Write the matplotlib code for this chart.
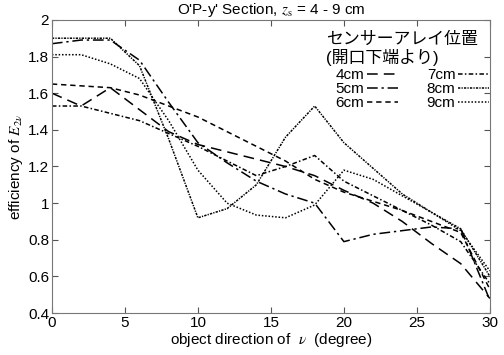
import numpy as np
import matplotlib
matplotlib.use('Agg')
import matplotlib.pyplot as plt
from matplotlib.ticker import FormatStrFormatter

plt.rcParams['font.family'] = ['Liberation Sans', 'Noto Sans CJK JP']
plt.rcParams['mathtext.fontset'] = 'stix'

# object direction (degree)
angle = [0, 2, 4, 6, 8, 10, 12, 14, 16, 18, 20, 22, 24, 26, 28, 30]

# efficiency for each sensor array position
eff_4cm = [1.60, 1.53, 1.63, 1.51, 1.39, 1.32, 1.28, 1.24, 1.20, 1.15, 1.07, 1.00, 0.90, 0.78, 0.67, 0.48]
eff_5cm = [1.87, 1.89, 1.89, 1.78, 1.55, 1.33, 1.22, 1.12, 1.05, 1.00, 0.79, 0.83, 0.85, 0.87, 0.86, 0.47]
eff_6cm = [1.65, 1.64, 1.63, 1.59, 1.53, 1.47, 1.39, 1.31, 1.23, 1.13, 1.06, 1.01, 0.96, 0.90, 0.84, 0.53]
eff_7cm = [1.53, 1.53, 1.49, 1.45, 1.38, 1.31, 1.23, 1.15, 1.20, 1.26, 1.12, 1.04, 0.96, 0.88, 0.79, 0.56]
eff_8cm = [1.90, 1.90, 1.90, 1.75, 1.35, 0.92, 0.97, 1.10, 1.36, 1.53, 1.33, 1.19, 1.05, 0.95, 0.86, 0.60]
eff_9cm = [1.81, 1.81, 1.76, 1.68, 1.45, 1.18, 1.00, 0.935, 0.92, 0.99, 1.18, 1.13, 1.04, 0.95, 0.85, 0.63]

labels = ['4cm', '5cm', '6cm', '7cm', '8cm', '9cm']
series = [eff_4cm, eff_5cm, eff_6cm, eff_7cm, eff_8cm, eff_9cm]
dashes = [(7, 4), (7, 2.5, 1.5, 2.5), (3.5, 2.5), (3, 1.5, 1, 1.5), (1.5, 0.8, 0.8, 0.8), (1, 1.2)]

W, H = 504, 355
fig = plt.figure(figsize=(W / 100, H / 100), dpi=100)
ax = fig.add_axes([0.103, 0.118, 0.869, 0.826])

lines = []
for vals, lab, d in zip(series, labels, dashes):
    ln, = ax.plot(angle, vals, color='k', lw=1.1, dashes=d, label=lab)
    lines.append(ln)

ax.set_xlim(0, 30)
ax.set_ylim(0.4, 2)
ax.set_xticks(np.arange(0, 31, 5))
ax.set_yticks(np.arange(0.4, 2.01, 0.2))
ax.yaxis.set_major_formatter(FormatStrFormatter('%g'))
ax.tick_params(direction='in', top=True, right=True, length=4, labelsize=11, pad=2, color='#555555')
for s in ax.spines.values():
    s.set_color('#777777')
    s.set_linewidth(0.8)

ax.set_title("O'P-y' Section, $z_{\\mathrm{s}}$ = 4 - 9 cm", fontsize=11, pad=4)
ax.set_xlabel("object direction of  $\\nu$  (degree)", fontsize=11, labelpad=1)
ax.set_ylabel("efficiency of $E_{2\\nu}$", fontsize=11, labelpad=2)

# legend heading, then the entries in two columns
fig.text(326 / W, 1 - 49 / H, 'センサーアレイ位置\n(開口下端より)', fontsize=12.2,
         ha='left', va='center', linespacing=1.15)
ax.legend(lines, labels, ncol=2, markerfirst=False, frameon=False,
          loc='upper right', bbox_to_anchor=(489 / W, 1 - 68 / H),
          bbox_transform=fig.transFigure, fontsize=11,
          handlelength=2.0, handletextpad=0.2, columnspacing=1.9,
          labelspacing=0.0, borderaxespad=0, borderpad=0)

fig.savefig('out.png', dpi=100)
